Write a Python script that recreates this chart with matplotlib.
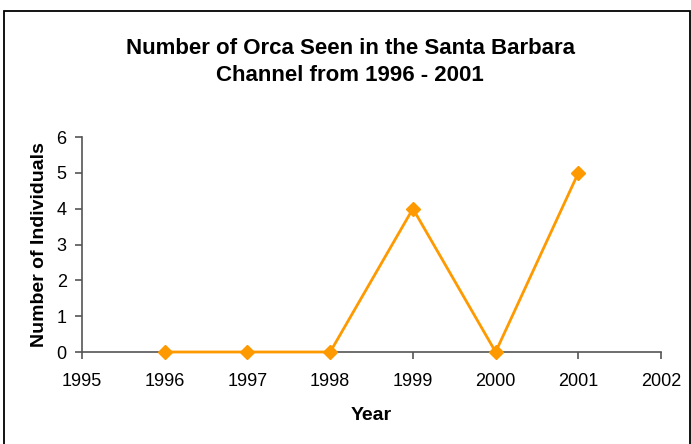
import matplotlib
matplotlib.use("Agg")
import matplotlib.pyplot as plt
from matplotlib.patches import Rectangle

years = [1996, 1997, 1998, 1999, 2000, 2001]
counts = [0, 0, 0, 4, 0, 5]
xticks = [1995, 1996, 1997, 1998, 1999, 2000, 2001, 2002]
yticks = [0, 1, 2, 3, 4, 5, 6]

plt.rcParams['font.family'] = ['Liberation Sans', 'DejaVu Sans']

fig = plt.figure(figsize=(6.91, 4.44), dpi=100)
fig.patches.append(Rectangle((0.006, -0.01), 0.992, 0.985, transform=fig.transFigure,
                             fill=False, edgecolor='black', linewidth=1.3))
ax = fig.add_axes([0.1187, 0.2072, 0.838, 0.4842])

ax.plot(years, counts, color='#FF9900', linewidth=2, marker='D', markersize=7,
        markeredgecolor='#FF9900', markerfacecolor='#FF9900', clip_on=False, zorder=3)

ax.set_xlim(1995, 2002)
ax.set_ylim(0, 6)
ax.set_xticks(xticks)
ax.set_yticks(yticks)
ax.set_xticklabels([str(x) for x in xticks])
for s in ['top', 'right']:
    ax.spines[s].set_visible(False)
for s in ['left', 'bottom']:
    ax.spines[s].set_color('#555555')
    ax.spines[s].set_linewidth(1.2)
ax.tick_params(axis='both', direction='out', length=5, width=1.2, color='#555555',
               labelsize=13)
ax.tick_params(axis='x', pad=10)
ax.tick_params(axis='y', pad=6)

ax.set_xlabel('Year', fontsize=14, fontweight='bold', labelpad=12)
ax.set_ylabel('Number of Individuals', fontsize=14, fontweight='bold', labelpad=6)
fig.text(0.507, 0.860, 'Number of Orca Seen in the Santa Barbara\nChannel from 1996 - 2001',
         ha='center', va='center', fontsize=16, fontweight='bold', linespacing=1.35)

fig.savefig('out.png', dpi=100)
